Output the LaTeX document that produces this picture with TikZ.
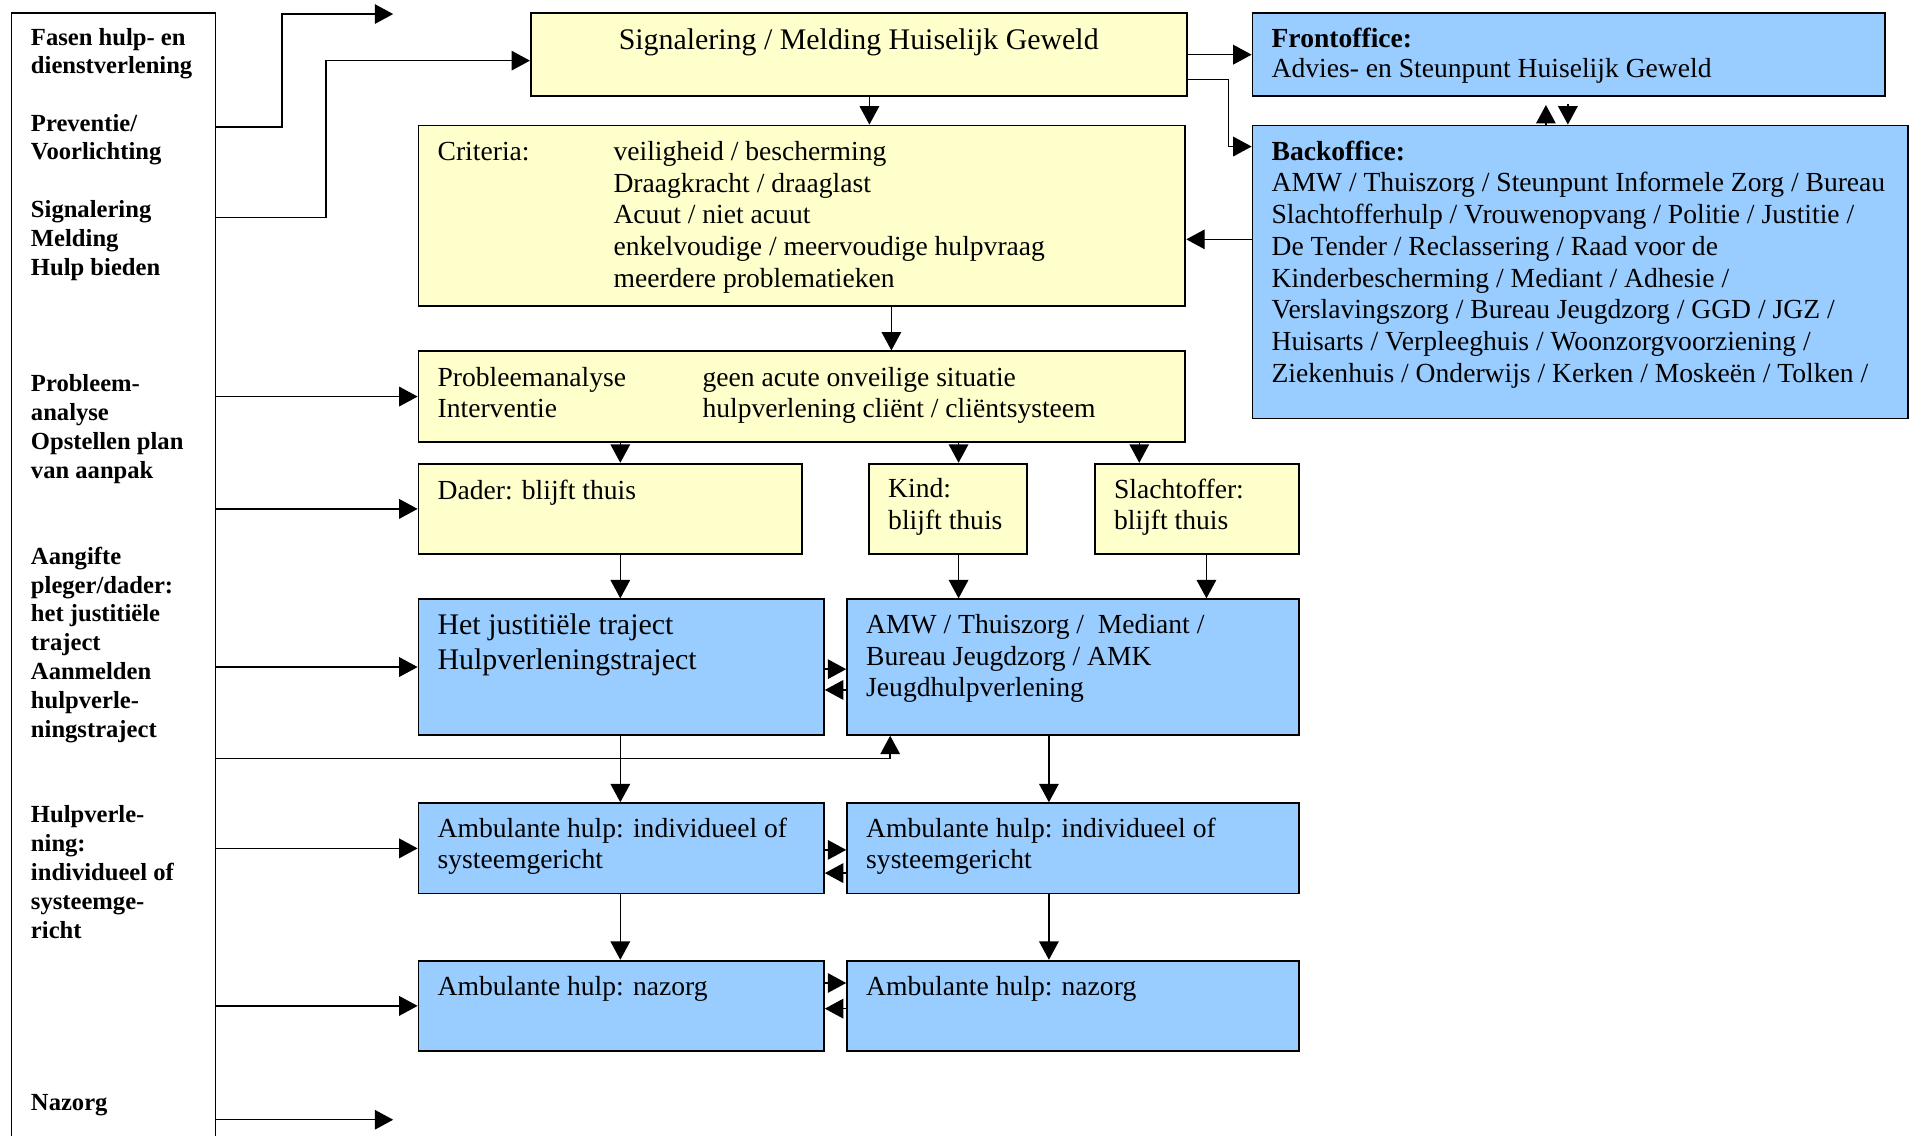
\documentclass[tikz,border=0pt]{standalone}
\usepackage{fontspec}
\setmainfont{Liberation Serif}
\usepackage{tikz}
\usetikzlibrary{arrows.meta}
\usetikzlibrary{positioning}
\definecolor{yelfill}{HTML}{FFFFCC}
\definecolor{blufill}{HTML}{99CCFF}

\begin{document}
\begin{tikzpicture}[x=0.531pt, y=-0.531pt,
  box/.style={draw, line width=0.8pt, anchor=north west, inner sep=0pt},
  txt/.style={font=\fontsize{12}{13.8}\selectfont, align=left, inner sep=0pt, execute at begin node=\strut},
  fasetxt/.style={font=\fontsize{10.7}{12.55}\selectfont\bfseries, align=left, inner sep=0pt, anchor=north west, execute at begin node=\strut},
  arr/.style={-{Triangle[length=8pt,width=8.5pt]}, line width=0.6pt}]

  \def\pu{0.531};
  \useasboundingbox (0,0) rectangle (1565,929.5);

  %fasen column
  \node[box, line width=0.6pt, minimum width=167*\pu pt, minimum height=935*\pu pt] (fase) at (9,10) {};
  \node[fasetxt] (f1) at (25,22.5) {Fasen hulp- en\\dienstverlening};
  \node[fasetxt] (f2) at (25,93) {Preventie/\\Voorlichting};
  \node[fasetxt] (f3) at (25,164) {Signalering\\Melding\\Hulp bieden};
  \node[fasetxt] (f4) at (25,306.5) {Probleem-\\analyse\\Opstellen plan\\van aanpak};
  \node[fasetxt] (f5) at (25,447.5) {Aangifte\\pleger/dader:\\het justitiële\\traject\\Aanmelden\\hulpverle-\\ningstraject};
  \node[fasetxt] (f6) at (25,659.5) {Hulpverle-\\ning:\\individueel of\\systeemge-\\richt};
  \node[fasetxt] (f7) at (25,892.5) {Nazorg};

  %boxes
  \foreach \name/\x/\y/\w/\h/\col in {sig/434/10/537/68/yelfill, front/1025/10/518/68/blufill,
      back/1025/102/537/240/blufill, crit/342/102/628/148/yelfill, prob/342/287/628/74/yelfill,
      dader/342/379/314/74/yelfill, kind/711/379/129/74/yelfill, slacht/896/379/167/74/yelfill,
      het/342/490/332/111/blufill, amw/693/490/370/111/blufill,
      amb1/342/657/332/74/blufill, amb2/693/657/370/74/blufill,
      naz1/342/786/332/74/blufill, naz2/693/786/370/74/blufill}{
    \node[box, fill=\col, minimum width=\w*\pu pt, minimum height=\h*\pu pt] (\name) at (\x,\y) {};
  }

  %box texts
  \node[txt, font=\fontsize{13}{15.2}\selectfont, below=5.4pt of sig.north] (sigt) {Signalering / Melding Huiselijk Geweld};
  \node[txt, font=\fontsize{12}{13.3}\selectfont, below right=6.6pt and 8.5pt of front.north west] (frontt)
    {\textbf{Frontoffice:}\\Advies- en Steunpunt Huiselijk Geweld};
  \node[txt, below right=6.8pt and 8.5pt of back.north west] (backt)
    {\textbf{Backoffice:}\\AMW / Thuiszorg / Steunpunt Informele Zorg / Bureau\\Slachtofferhulp / Vrouwenopvang / Politie / Justitie /\\De Tender / Reclassering / Raad voor de\\Kinderbescherming / Mediant / Adhesie /\\Verslavingszorg / Bureau Jeugdzorg / GGD / JGZ /\\Huisarts / Verpleeghuis / Woonzorgvoorziening /\\Ziekenhuis / Onderwijs / Kerken / Moskeën / Tolken /};
  \node[txt, below right=5.7pt and 8.5pt of crit.north west] (critt)
    {\begin{tabular}[t]{@{}p{76.5pt}@{}l@{}}Criteria: & veiligheid / bescherming\\ & Draagkracht / draaglast\\ & Acuut / niet acuut\\ & enkelvoudige / meervoudige hulpvraag\\ & meerdere problematieken\end{tabular}};
  \node[txt, below right=5.7pt and 8.5pt of prob.north west] (probt)
    {\begin{tabular}[t]{@{}p{115.2pt}@{}l@{}}Probleemanalyse & geen acute onveilige situatie\\ Interventie & hulpverlening cliënt / cliëntsysteem\end{tabular}};
  \node[txt, below right=6.2pt and 8.5pt of dader.north west] (dadert) {Dader: blijft thuis};
  \node[txt, below right=6.7pt and 8.5pt of kind.north west] (kindt) {Kind:\\blijft thuis};
  \node[txt, below right=6.7pt and 8.5pt of slacht.north west] (slachtt) {Slachtoffer:\\blijft thuis};
  \node[txt, font=\fontsize{13}{15.2}\selectfont, below right=6.6pt and 8.5pt of het.north west] (hett)
    {Het justitiële traject\\Hulpverleningstraject};
  \node[txt, below right=6.7pt and 8.5pt of amw.north west] (amwt)
    {AMW / Thuiszorg /\ \ Mediant /\\Bureau Jeugdzorg / AMK\\Jeugdhulpverlening};
  \node[txt, below right=6.5pt and 8.5pt of amb1.north west] (amb1t) {Ambulante hulp: individueel of\\systeemgericht};
  \node[txt, below right=6.5pt and 8.5pt of amb2.north west] (amb2t) {Ambulante hulp: individueel of\\systeemgericht};
  \node[txt, below right=5.7pt and 8.5pt of naz1.north west] (naz1t) {Ambulante hulp: nazorg};
  \node[txt, below right=5.7pt and 8.5pt of naz2.north west] (naz2t) {Ambulante hulp: nazorg};

  %bends and columns
  \coordinate (p1) at (231,104);
  \coordinate (e1) at (322,11.5);
  \coordinate (p2) at (267,178);
  \coordinate (p3) at (1006,65);
  \coordinate (q3) at (1006,120);
  \coordinate (p4) at (1000,196);
  \coordinate (p6) at (729,621);
  \coordinate (e9) at (322,917);
  \coordinate (fb) at (1266,86);
  \coordinate (bf) at (1284,85);
  \foreach \n/\x in {xa/712, xb/730, xc/508, xd/785, xe/933, xf/988, xg/859}{
    \coordinate (\n) at (\x,0);
  }
  \foreach \n/\y in {r1/548, l1/565, r2/696, l2/715, r3/805, l3/826}{
    \coordinate (\n) at (0,\y);
  }

  %arrows from fasen
  \draw[arr] (fase.east |- p1) -- (p1) |- (e1);
  \draw[arr] (fase.east |- p2) -- (p2) |- ([yshift=-2.6pt]sig.west);
  \foreach \b in {prob,dader,het,amb1,naz1}
    \draw[arr] (fase.east |- \b.west) -- (\b.west);
  \draw[arr] (fase.east |- p6) -- (p6) -- (p6 |- amw.south);
  \draw[arr] (fase.east |- e9) -- (e9);

  %front and back office
  \draw[arr] (sig.east |- front.west) -- (front.west);
  \draw[arr] (sig.east |- p3) -- (p3) |- (q3 -| back.west);
  \draw[arr] (back.west |- p4) -- (crit.east |- p4);
  \draw[arr] (back.north -| fb) -- (fb);
  \draw[arr] (bf) -- (back.north -| bf);

  %down arrows
  \foreach \a/\b/\c in {sig/crit/xa, crit/prob/xb, prob/dader/xc, dader/het/xc, het/amb1/xc, amb1/naz1/xc,
      prob/kind/xd, kind/amw/xd, prob/slacht/xe, slacht/amw/xf, amw/amb2/xg, amb2/naz2/xg}
    \draw[arr] (\a.south -| \c) -- (\b.north -| \c);

  %double arrows
  \foreach \a/\b/\r/\l in {het/amw/r1/l1, amb1/amb2/r2/l2, naz1/naz2/r3/l3}{
    \draw[arr] (\a.east |- \r) -- (\b.west |- \r);
    \draw[arr] (\b.west |- \l) -- (\a.east |- \l);
  }

\end{tikzpicture}
\end{document}
